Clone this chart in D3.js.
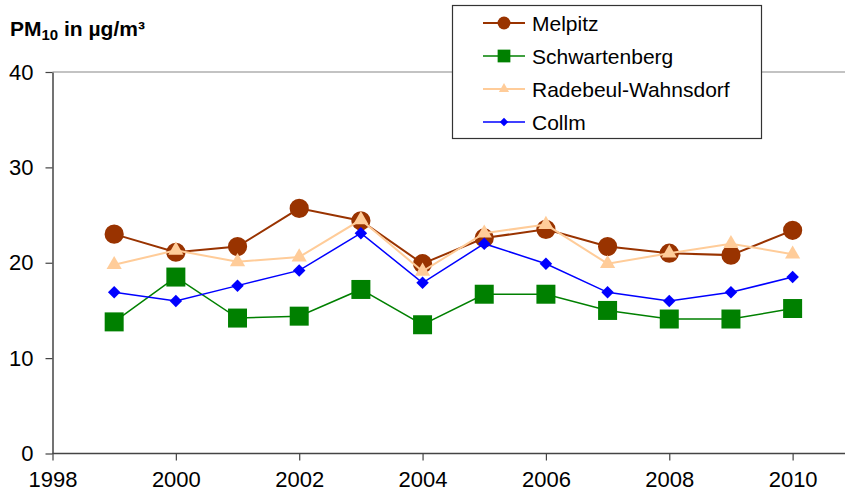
<!DOCTYPE html>
<html>
<head>
<meta charset="utf-8">
<script src="https://cdn.jsdelivr.net/npm/d3@7"></script>
<style>
    body { margin: 0; background: #fff; }
    svg { font-family: Arial, "Liberation Sans", sans-serif; }
    .axis text { font-size: 22px; fill: #000; }
</style>
</head>
<body>
<script>
// Chart values
const years = [1999, 2000, 2001, 2002, 2003, 2004, 2005, 2006, 2007, 2008, 2009, 2010];
const melpitz = [23.0, 21.1, 21.7, 25.7, 24.4, 19.9, 22.6, 23.5, 21.7, 21.0, 20.8, 23.4];
const schwartenberg = [13.8, 18.5, 14.2, 14.4, 17.2, 13.5, 16.7, 16.7, 15.0, 14.1, 14.1, 15.2];
const radebeul = [19.8, 21.3, 20.1, 20.6, 24.5, 19.1, 23.1, 24.0, 19.9, 21.0, 22.0, 20.9];
const collm = [16.9, 16.0, 17.6, 19.2, 23.1, 17.9, 22.0, 19.9, 16.9, 16.0, 16.9, 18.5];
const xTicks = [1998, 2000, 2002, 2004, 2006, 2008, 2010];
const yTicks = [0, 10, 20, 30, 40];

const width = 845;
const height = 499;

// Series definitions (name, values, colour, marker)
const series = [
    { name: "Melpitz", values: melpitz, color: "#993300", symbol: d3.symbolCircle, size: 290, lw: 2, rot: 0 },
    { name: "Schwartenberg", values: schwartenberg, color: "#008000", symbol: d3.symbolSquare, size: 361, lw: 1.5, rot: 0 },
    { name: "Radebeul-Wahnsdorf", values: radebeul, color: "#FFCC99", symbol: d3.symbolTriangle, size: 100, lw: 2, rot: 0 },
    { name: "Collm", values: collm, color: "#0000FF", symbol: d3.symbolSquare, size: 78, lw: 1.5, rot: 45 }
];

const svg = d3.select("body")
    .append("svg")
    .attr("width", width)
    .attr("height", height);

// Scales
const xScale = d3.scaleLinear()
    .domain([1998, 2011])
    .range([52.5, 854.3]);

const yScale = d3.scaleLinear()
    .domain([0, 40])
    .range([453.5, 72]);

// Top border of the plot area
svg.append("line")
    .attr("x1", 52.5)
    .attr("x2", width)
    .attr("y1", yScale(40))
    .attr("y2", yScale(40))
    .attr("stroke", "#888")
    .attr("stroke-width", 1.2);

// Axes
const bottomAxis = d3.axisBottom(xScale)
    .tickValues(xTicks)
    .tickFormat(d3.format("d"))
    .tickSize(7)
    .tickSizeOuter(0)
    .tickPadding(11);

const leftAxis = d3.axisLeft(yScale)
    .tickValues(yTicks)
    .tickSize(7)
    .tickSizeOuter(0)
    .tickPadding(12);

const gx = svg.append("g")
    .attr("class", "axis")
    .attr("transform", `translate(0, ${yScale(0)})`)
    .call(bottomAxis);

const gy = svg.append("g")
    .attr("class", "axis")
    .attr("transform", `translate(${xScale(1998)}, 0)`)
    .call(leftAxis);

[gx, gy].forEach(g => {
    g.select(".domain").attr("stroke", "#444").attr("stroke-width", 1.5);
    g.selectAll(".tick line").attr("stroke", "#444").attr("stroke-width", 1.2);
});
gx.select(".domain").attr("d", `M${xScale(1998)},0H${width}`);

// Lines and markers
series.forEach(s => {
    const pts = years.map((y, i) => ({ year: y, value: s.values[i] }));

    svg.append("path")
        .datum(pts)
        .attr("fill", "none")
        .attr("stroke", s.color)
        .attr("stroke-width", s.lw)
        .attr("d", d3.line()
            .x(d => xScale(d.year))
            .y(d => yScale(d.value))
        );

    svg.append("g")
        .selectAll("path")
        .data(pts)
        .join("path")
        .attr("transform", d => `translate(${xScale(d.year)}, ${yScale(d.value)}) rotate(${s.rot})`)
        .attr("d", d3.symbol().type(s.symbol).size(s.size))
        .attr("fill", s.color);
});

// Y-axis title
const title = svg.append("text")
    .attr("x", 10)
    .attr("y", 36)
    .attr("font-size", 21)
    .attr("font-weight", "bold");
title.append("tspan").text("PM");
title.append("tspan").attr("font-size", 15).attr("dy", 4).text("10");
title.append("tspan").attr("dy", -4).text(" in µg/m³");

// Legend
const legend = svg.append("g");

legend.append("rect")
    .attr("x", 452.5)
    .attr("y", 5.5)
    .attr("width", 309)
    .attr("height", 133)
    .attr("fill", "#fff")
    .attr("stroke", "#333")
    .attr("stroke-width", 1.2);

const legendY = [23, 56, 89, 122];

series.forEach((s, i) => {
    const row = legend.append("g")
        .attr("transform", `translate(0, ${legendY[i]})`);

    row.append("line")
        .attr("x1", 483)
        .attr("x2", 525)
        .attr("stroke", s.color)
        .attr("stroke-width", s.lw);

    row.append("path")
        .attr("transform", `translate(504, 0) rotate(${s.rot})`)
        .attr("d", d3.symbol().type(s.symbol).size(s.size * 0.45))
        .attr("fill", s.color);

    row.append("text")
        .attr("x", 532)
        .attr("y", 7.5)
        .attr("font-size", 21)
        .text(s.name);
});
</script>
</body>
</html>
